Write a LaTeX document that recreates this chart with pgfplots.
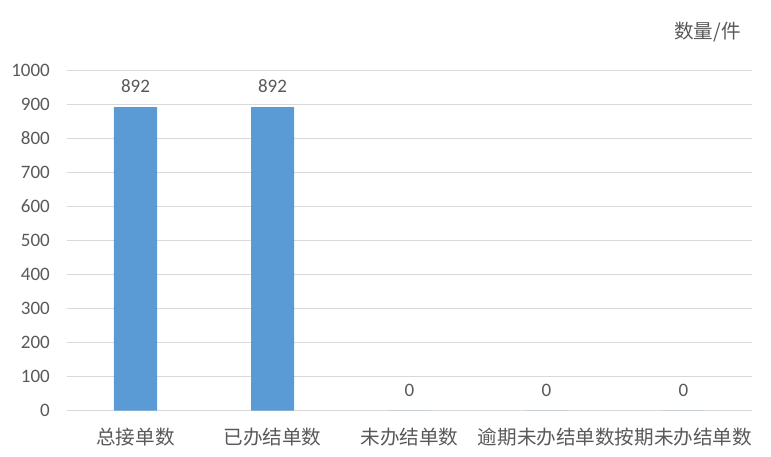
\documentclass[border=0pt]{standalone}
\usepackage{pgfplots}
\pgfplotsset{compat=1.18}
\usepackage{fontspec}
\setmainfont{Carlito}
\newfontfamily\cjk{Noto Sans CJK SC}
\definecolor{barblue}{HTML}{5B9BD5}
\definecolor{gridgray}{HTML}{D9D9D9}
\definecolor{txt}{HTML}{595959}
\begin{document}
\begin{tikzpicture}
  \useasboundingbox (0,0) rectangle (771pt,457pt);
  \begin{axis}[
    at={(67pt,46.3pt)}, anchor=south west,
    scale only axis,
    width=685pt, height=340.4pt,
    xmin=-0.5, xmax=4.5,
    ymin=0, ymax=1000,
    ytick={0,100,...,1000},
    xtick={0,1,2,3,4},
    xticklabels={总接单数,已办结单数,未办结单数,逾期未办结单数,按期未办结单数},
    ymajorgrids,
    major grid style={draw=gridgray, line width=1.5pt},
    axis line style={draw=none},
    major tick length=0pt,
    /pgf/number format/1000 sep={},
    /pgf/number format/assume math mode=true,
    yticklabel style={font=\fontsize{19}{22}\selectfont, text=txt,
      anchor=east, inner sep=0pt, xshift=-17pt},
    xticklabel style={font=\cjk\fontsize{19.6}{22}\selectfont, text=txt,
      anchor=center, inner sep=0pt, yshift=-26.5pt},
    clip=false,
  ]
    \addplot[ybar, bar width=43pt, fill=barblue, draw=none,
      nodes near coords,
      nodes near coords style={font=\fontsize{19}{22}\selectfont, text=txt,
        anchor=center, inner sep=0pt, yshift=20.5pt},
    ] coordinates {
      (0,892) (1,892) (2,0) (3,0) (4,0)
    };
  \end{axis}
  \node[anchor=east, inner sep=0pt, text=txt, font=\cjk\fontsize{19.6}{22}\selectfont]
    at (741pt,425pt) {数量/件};
\end{tikzpicture}
\end{document}
